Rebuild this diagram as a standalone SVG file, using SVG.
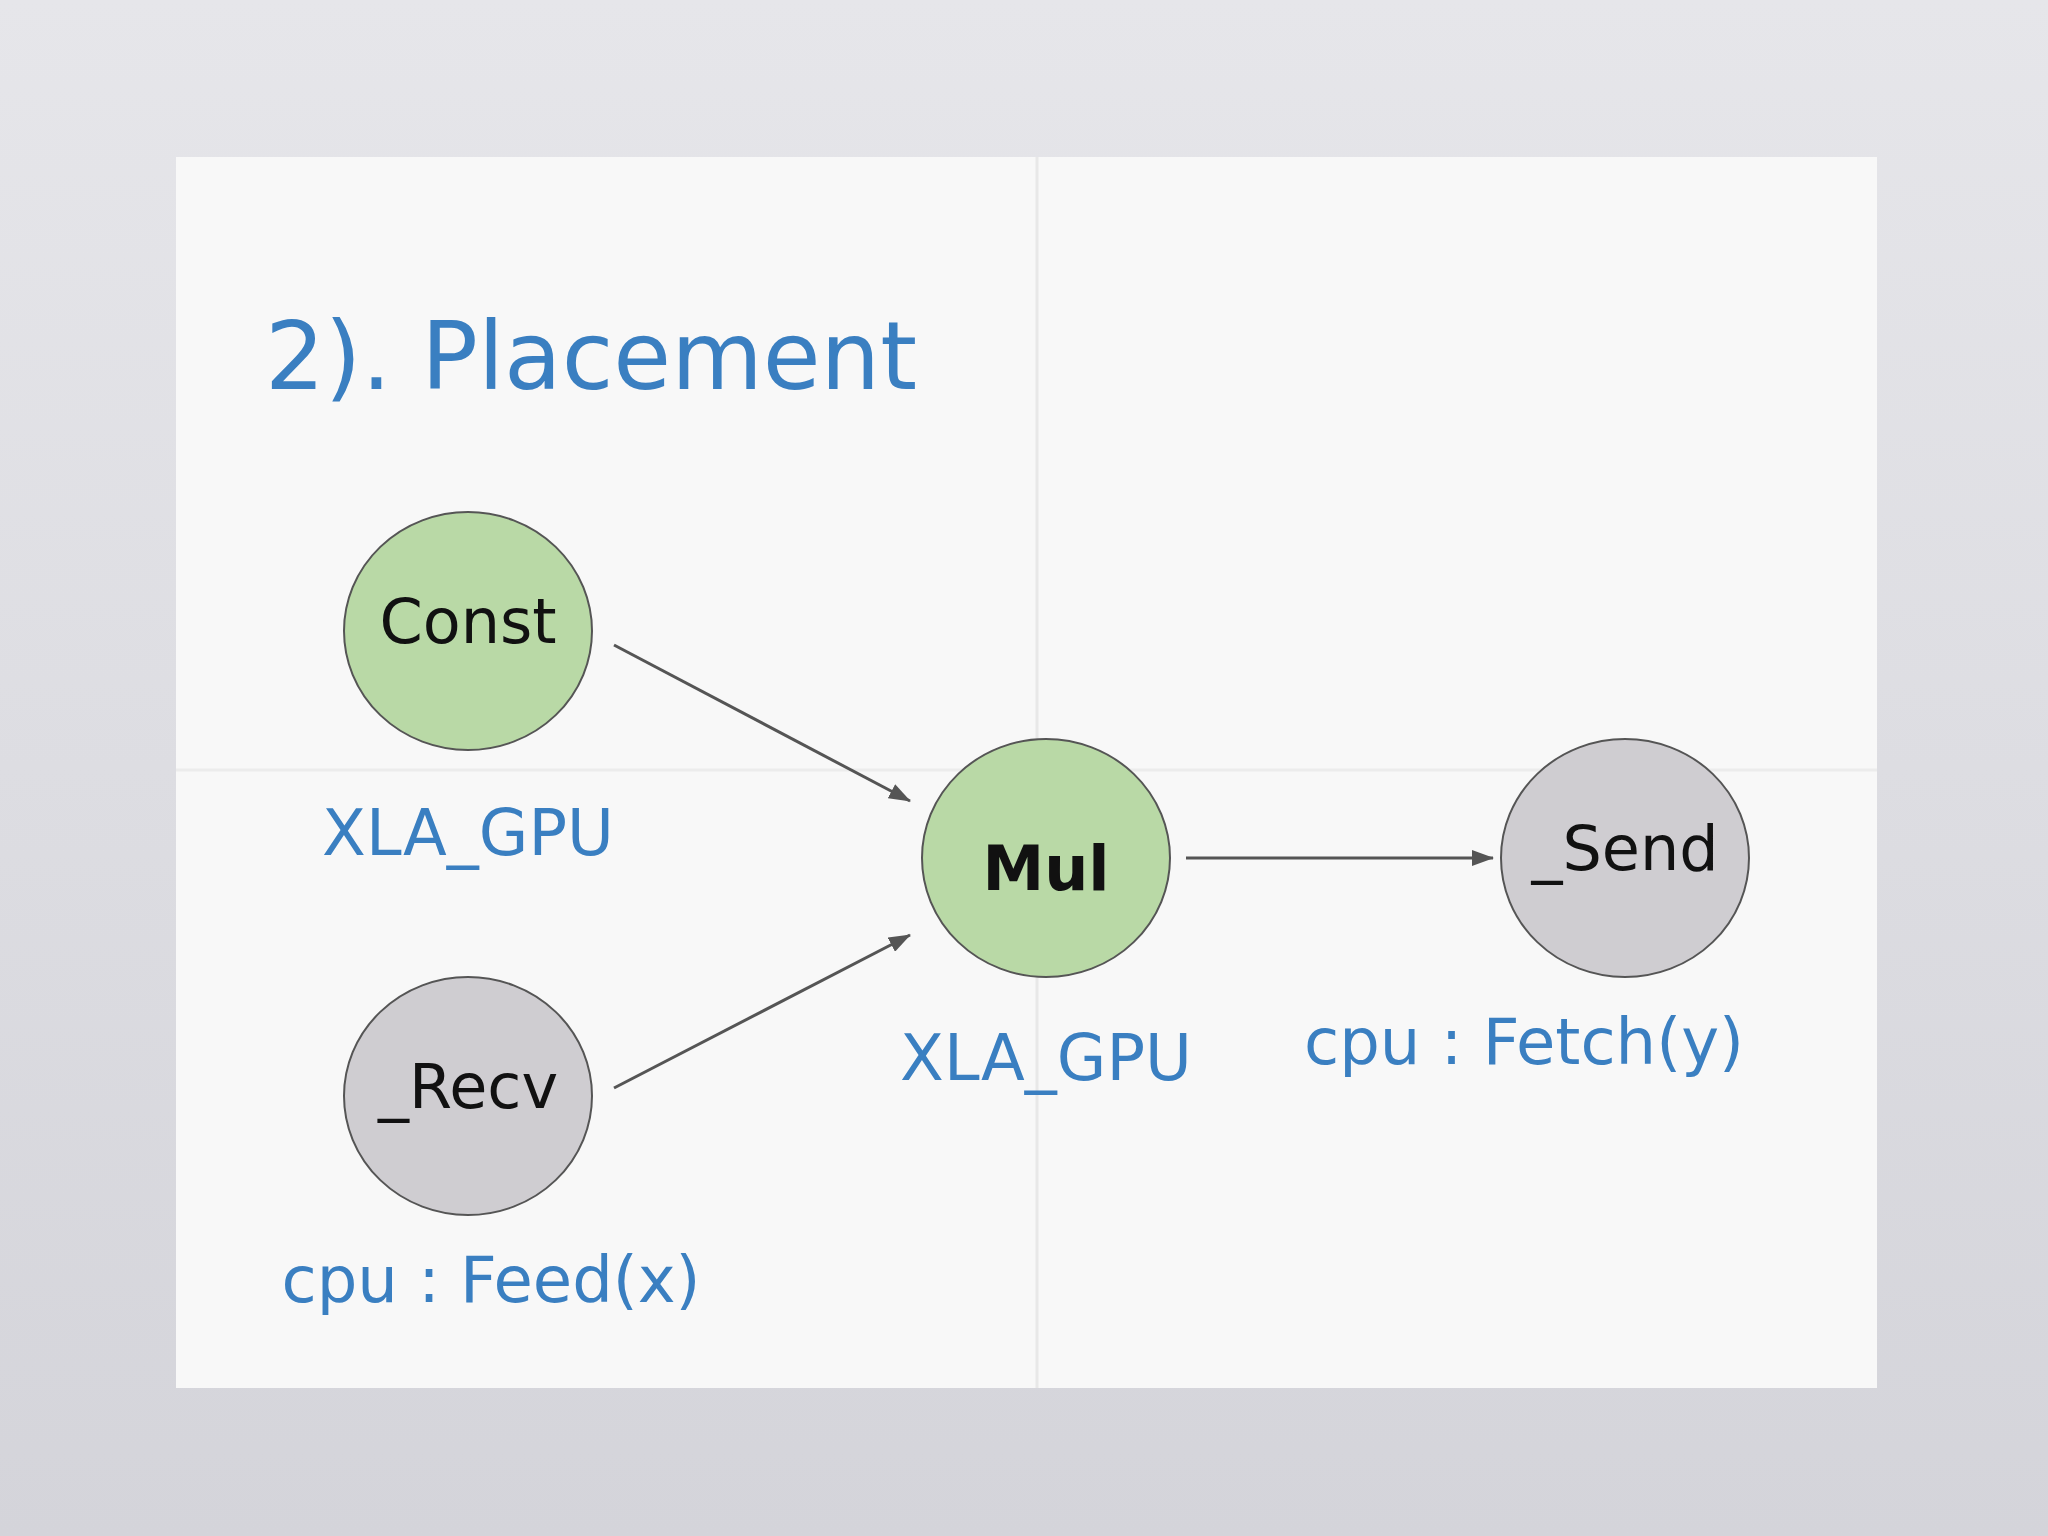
<svg xmlns="http://www.w3.org/2000/svg" width="2048" height="1536" viewBox="0 0 2048 1536">
<defs>
<marker id="ah" markerWidth="22" markerHeight="16" refX="21" refY="8" orient="auto" markerUnits="userSpaceOnUse" viewBox="0 0 22 16"><path d="M0,0 L22,8 L0,16 z" fill="#555"/></marker>
<linearGradient id="bg" x1="0" y1="0" x2="0" y2="1"><stop offset="0" stop-color="#e6e6ea"/><stop offset="1" stop-color="#d4d4da"/></linearGradient>
</defs>
<style>
.lbl{font-family:"DejaVu Sans",sans-serif;fill:#3a7fc1;font-size:64px}
.nt{font-family:"DejaVu Sans",sans-serif;fill:#111;font-size:62px;text-anchor:middle}
.g{fill:#b9d9a6;stroke:#555;stroke-width:2}
.y{fill:#cfcdd1;stroke:#555;stroke-width:2}
.e{stroke:#555;stroke-width:3;fill:none;marker-end:url(#ah)}
</style>
<rect width="2048" height="1536" fill="url(#bg)"/>
<rect x="176" y="157" width="1701" height="1231" fill="#f8f8f8"/>
<line x1="1037" y1="157" x2="1037" y2="1388" stroke="#e8e8e8" stroke-width="3"/>
<line x1="176" y1="770" x2="1877" y2="770" stroke="#ececec" stroke-width="3"/>
<text x="265" y="389" font-family="DejaVu Sans, sans-serif" font-size="94" fill="#3a7fc1">2). Placement</text>
<g id="connectors">
<line class="e" x1="614" y1="645" x2="910" y2="801"/>
<line class="e" x1="614" y1="1088" x2="910" y2="935"/>
<line class="e" x1="1186" y1="858" x2="1493" y2="858"/>
</g>
<g id="const"><ellipse class="g" cx="468" cy="631" rx="124" ry="119"/><text class="nt" x="468" y="643">Const</text></g>
<g id="mul"><ellipse class="g" cx="1046" cy="858" rx="124" ry="119"/><text class="nt" x="1046" y="890" font-size="88" font-weight="bold">Mul</text></g>
<g id="send"><ellipse class="y" cx="1625" cy="858" rx="124" ry="119"/><text class="nt" x="1625" y="870">_Send</text></g>
<g id="recv"><ellipse class="y" cx="468" cy="1096" rx="124" ry="119"/><text class="nt" x="468" y="1108">_Recv</text></g>
<text class="lbl" x="468" y="855" text-anchor="middle">XLA_GPU</text>
<text class="lbl" x="1046" y="1080" text-anchor="middle">XLA_GPU</text>
<text class="lbl" x="1524" y="1064" text-anchor="middle">cpu : Fetch(y)</text>
<text class="lbl" x="491" y="1302" text-anchor="middle">cpu : Feed(x)</text>
</svg>
